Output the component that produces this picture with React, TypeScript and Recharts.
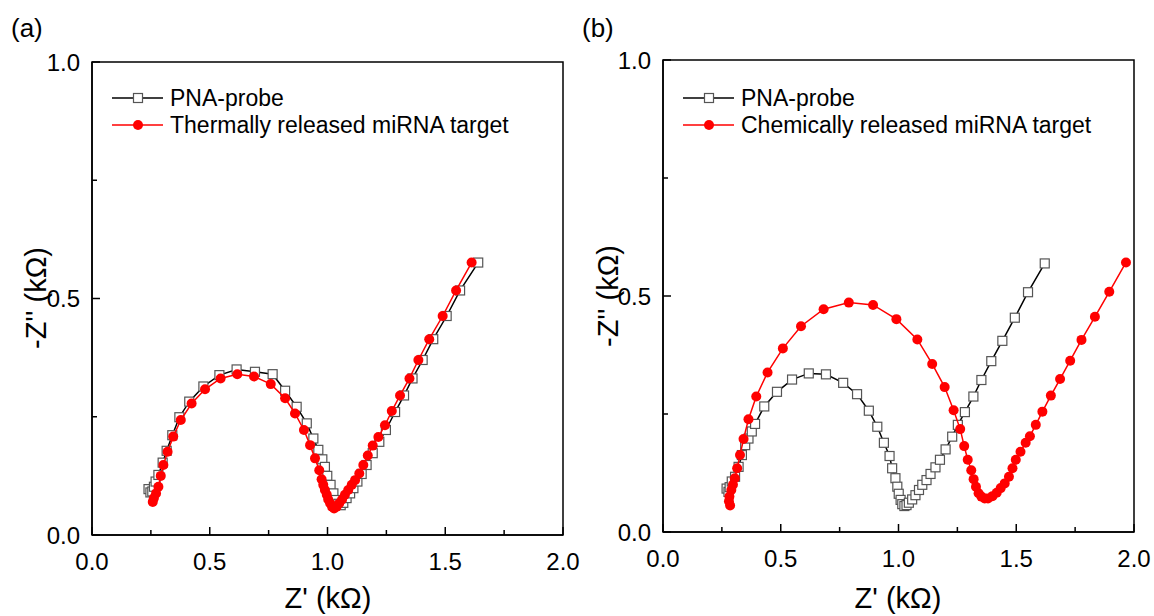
import React from "react";
import { ScatterChart, Scatter, XAxis, YAxis, ReferenceArea, Legend } from "recharts";

// axis ticks (minor ticks at the quarter steps carry no label)
const xTicks = [0, 0.25, 0.5, 0.75, 1, 1.25, 1.5, 1.75, 2];
const yTicks = [0, 0.25, 0.5, 0.75, 1];

// panel (a): [Z', -Z''] in kOhm
const probeA: [number, number][] = [
  [0.240, 0.097], [0.248, 0.090], [0.256, 0.092], [0.263, 0.102], [0.270, 0.113],
  [0.282, 0.127], [0.300, 0.153], [0.317, 0.178], [0.341, 0.211], [0.371, 0.249],
  [0.413, 0.282], [0.473, 0.314], [0.541, 0.338], [0.614, 0.350], [0.692, 0.345],
  [0.767, 0.340], [0.820, 0.305], [0.869, 0.271], [0.912, 0.236], [0.940, 0.204],
  [0.961, 0.180], [0.978, 0.160], [0.989, 0.144], [0.999, 0.125], [1.013, 0.106],
  [1.025, 0.088], [1.036, 0.074], [1.046, 0.066], [1.056, 0.063], [1.067, 0.068],
  [1.081, 0.078], [1.096, 0.088], [1.110, 0.099], [1.127, 0.113], [1.145, 0.129],
  [1.166, 0.148], [1.192, 0.173], [1.220, 0.197], [1.248, 0.222], [1.287, 0.260],
  [1.325, 0.295], [1.361, 0.331], [1.404, 0.370], [1.449, 0.414], [1.506, 0.463],
  [1.563, 0.517], [1.640, 0.576],
];

const thermalA: [number, number][] = [
  [0.258, 0.070], [0.263, 0.078], [0.272, 0.088], [0.282, 0.102], [0.292, 0.125],
  [0.303, 0.148], [0.321, 0.176], [0.345, 0.208], [0.377, 0.243], [0.423, 0.278],
  [0.480, 0.308], [0.546, 0.331], [0.617, 0.340], [0.688, 0.335], [0.759, 0.319],
  [0.820, 0.289], [0.862, 0.257], [0.900, 0.222], [0.926, 0.190], [0.947, 0.162],
  [0.965, 0.137], [0.975, 0.118], [0.982, 0.106], [0.989, 0.095], [0.997, 0.085],
  [1.003, 0.075], [1.011, 0.067], [1.019, 0.060], [1.028, 0.056], [1.039, 0.060],
  [1.050, 0.067], [1.062, 0.075], [1.074, 0.085], [1.088, 0.095], [1.103, 0.106],
  [1.117, 0.116], [1.135, 0.130], [1.152, 0.148], [1.171, 0.168], [1.192, 0.189],
  [1.216, 0.207], [1.244, 0.232], [1.273, 0.262], [1.308, 0.295], [1.348, 0.331],
  [1.386, 0.370], [1.432, 0.414], [1.489, 0.463], [1.546, 0.517], [1.612, 0.576],
];

// panel (b)
const probeB: [number, number][] = [
  [0.270, 0.092], [0.278, 0.085], [0.283, 0.095], [0.292, 0.107], [0.306, 0.117],
  [0.321, 0.138], [0.335, 0.163], [0.349, 0.184], [0.363, 0.198], [0.377, 0.213],
  [0.391, 0.229], [0.430, 0.266], [0.484, 0.297], [0.548, 0.323], [0.619, 0.336],
  [0.692, 0.334], [0.765, 0.316], [0.824, 0.292], [0.874, 0.257], [0.910, 0.223],
  [0.938, 0.189], [0.962, 0.161], [0.973, 0.135], [0.987, 0.114], [0.995, 0.096],
  [1.001, 0.081], [1.009, 0.068], [1.016, 0.059], [1.025, 0.055], [1.034, 0.057],
  [1.044, 0.062], [1.058, 0.069], [1.072, 0.078], [1.087, 0.089], [1.101, 0.100],
  [1.119, 0.110], [1.136, 0.123], [1.157, 0.137], [1.176, 0.153], [1.200, 0.175],
  [1.228, 0.202], [1.252, 0.227], [1.282, 0.254], [1.318, 0.287], [1.352, 0.322],
  [1.394, 0.362], [1.441, 0.405], [1.494, 0.454], [1.550, 0.508], [1.621, 0.569],
];

const chemicalB: [number, number][] = [
  [0.285, 0.056], [0.280, 0.065], [0.282, 0.075], [0.290, 0.089], [0.297, 0.100],
  [0.305, 0.114], [0.315, 0.135], [0.327, 0.163], [0.342, 0.197], [0.363, 0.239],
  [0.396, 0.287], [0.444, 0.338], [0.509, 0.389], [0.586, 0.436], [0.682, 0.472],
  [0.789, 0.486], [0.892, 0.481], [0.991, 0.451], [1.080, 0.408], [1.143, 0.356],
  [1.196, 0.307], [1.234, 0.258], [1.262, 0.218], [1.279, 0.182], [1.294, 0.153],
  [1.309, 0.131], [1.319, 0.112], [1.329, 0.096], [1.340, 0.082], [1.352, 0.075],
  [1.366, 0.071], [1.380, 0.071], [1.399, 0.076], [1.417, 0.083], [1.434, 0.093],
  [1.451, 0.103], [1.469, 0.117], [1.484, 0.135], [1.498, 0.153], [1.518, 0.170],
  [1.540, 0.189], [1.558, 0.203], [1.583, 0.227], [1.611, 0.255], [1.647, 0.289],
  [1.686, 0.324], [1.729, 0.363], [1.777, 0.407], [1.834, 0.456], [1.895, 0.509],
  [1.966, 0.571],
];

const FONT = '"Liberation Sans", Arial, sans-serif';
const TICK_GAP = 18;

const toPts = (arr: [number, number][]) => arr.map(([x, y]) => ({ x, y }));
const isMajor = (v: number) => Math.abs(v * 2 - Math.round(v * 2)) < 1e-6;

// ticks point inward, so draw them ourselves
const XTick = (props: any) => {
  const { x, y, payload } = props;
  const axisY = y - TICK_GAP;
  const major = isMajor(payload.value);
  return (
    <g>
      <line x1={x} x2={x} y1={axisY} y2={axisY - (major ? 8 : 5)} stroke="#000" strokeWidth={1.5} />
      {major && (
        <text x={x} y={y} dy="0.71em" textAnchor="middle" fontSize={24} fontFamily={FONT} fill="#000">
          {payload.value.toFixed(1)}
        </text>
      )}
    </g>
  );
};

const YTick = (props: any) => {
  const { x, y, payload } = props;
  const axisX = x + 12;
  const major = isMajor(payload.value);
  return (
    <g>
      <line x1={axisX} x2={axisX + (major ? 8 : 5)} y1={y} y2={y} stroke="#000" strokeWidth={1.5} />
      {major && (
        <text x={x} y={y} dy="0.355em" textAnchor="end" fontSize={24} fontFamily={FONT} fill="#000">
          {payload.value.toFixed(1)}
        </text>
      )}
    </g>
  );
};

const OpenSquare = (props: any) => {
  const { cx, cy } = props;
  return <rect x={cx - 4.5} y={cy - 4.5} width={9} height={9} fill="#fff" stroke="#555" strokeWidth={1.2} />;
};

const RedDot = (props: any) => {
  const { cx, cy } = props;
  return <circle cx={cx} cy={cy} r={5} fill="#ff0000" />;
};

const LegendBox = ({ redLabel }: { redLabel: string }) => (
  <svg width={460} height={60} style={{ display: "block" }}>
    <line x1={7} x2={58} y1={18} y2={18} stroke="#000" strokeWidth={1.5} />
    <rect x={28.5} y={13.5} width={9} height={9} fill="#fff" stroke="#555" strokeWidth={1.2} />
    <text x={65} y={18} dy="0.355em" fontSize={23} fontFamily={FONT} fill="#000">PNA-probe</text>
    <line x1={7} x2={58} y1={45} y2={45} stroke="#ff0000" strokeWidth={1.5} />
    <circle cx={33} cy={45} r={5} fill="#ff0000" />
    <text x={65} y={45} dy="0.355em" fontSize={23} fontFamily={FONT} fill="#000">{redLabel}</text>
  </svg>
);

type PanelProps = {
  left: number;
  top: number;
  bottom: number;
  probe: [number, number][];
  target: [number, number][];
  redLabel: string;
};

const Panel = ({ left, top, bottom, probe, target, redLabel }: PanelProps) => (
  <div style={{ position: "absolute", left, top: 0 }}>
    <ScatterChart width={600} height={616} margin={{ top, right: 37, left: 32, bottom }}>
      <XAxis
        type="number"
        dataKey="x"
        domain={[0, 2]}
        ticks={xTicks}
        interval={0}
        height={30}
        tickSize={0}
        tickMargin={TICK_GAP}
        tickLine={false}
        axisLine={{ stroke: "#000", strokeWidth: 1.5 }}
        tick={<XTick />}
      />
      <YAxis
        type="number"
        dataKey="y"
        domain={[0, 1]}
        ticks={yTicks}
        interval={0}
        width={60}
        tickSize={0}
        tickMargin={12}
        tickLine={false}
        axisLine={{ stroke: "#000", strokeWidth: 1.5 }}
        tick={<YTick />}
      />
      <ReferenceArea x1={0} x2={2} y1={0} y2={1} fill="none" stroke="#000" strokeWidth={1.5} />
      <Legend
        layout="horizontal"
        verticalAlign="middle"
        wrapperStyle={{ top: 80, left: 105, width: 460 }}
        content={() => <LegendBox redLabel={redLabel} />}
      />
      <Scatter
        name="PNA-probe"
        data={toPts(probe)}
        line={{ stroke: "#000", strokeWidth: 1.5 }}
        shape={<OpenSquare />}
        isAnimationActive={false}
      />
      <Scatter
        name={redLabel}
        data={toPts(target)}
        line={{ stroke: "#ff0000", strokeWidth: 1.5 }}
        shape={<RedDot />}
        isAnimationActive={false}
      />
    </ScatterChart>
  </div>
);

export default function App() {
  return (
    <div
      style={{
        position: "absolute",
        left: 0,
        top: 0,
        width: 1154,
        height: 616,
        overflow: "hidden",
        background: "#fff",
        fontFamily: FONT,
      }}
    >
      <Panel left={0} top={62} bottom={51} probe={probeA} target={thermalA} redLabel="Thermally released miRNA target" />
      <Panel left={571} top={60} bottom={54} probe={probeB} target={chemicalB} redLabel="Chemically released miRNA target" />
      <svg width={1154} height={616} style={{ position: "absolute", left: 0, top: 0, pointerEvents: "none" }}>
        <text x={11} y={37} fontSize={26} fontFamily={FONT} fill="#000">(a)</text>
        <text x={582} y={37} fontSize={26} fontFamily={FONT} fill="#000">(b)</text>
        <text x={328} y={608} textAnchor="middle" fontSize={29} fontFamily={FONT} fill="#000">Z' (kΩ)</text>
        <text x={898} y={608} textAnchor="middle" fontSize={29} fontFamily={FONT} fill="#000">Z' (kΩ)</text>
        <text transform="translate(46,298) rotate(-90)" textAnchor="middle" fontSize={29} fontFamily={FONT} fill="#000">-Z'' (kΩ)</text>
        <text transform="translate(618,296) rotate(-90)" textAnchor="middle" fontSize={29} fontFamily={FONT} fill="#000">-Z'' (kΩ)</text>
      </svg>
    </div>
  );
}
